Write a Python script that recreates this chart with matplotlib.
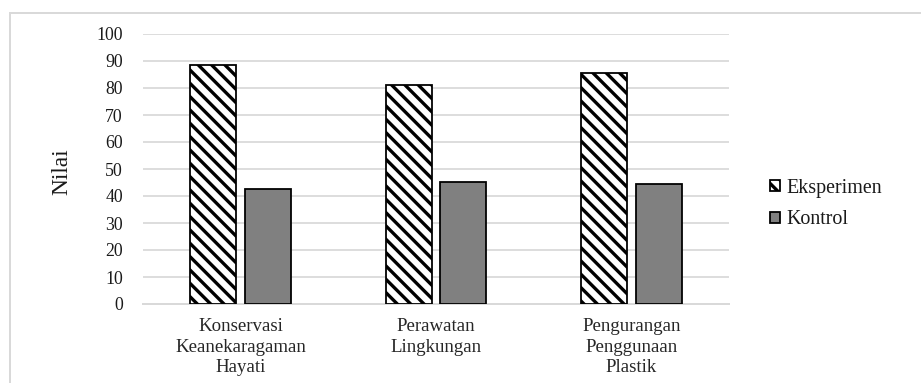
import matplotlib
matplotlib.use("Agg")
import matplotlib.pyplot as plt
from matplotlib.lines import Line2D

categories = ["Konservasi\nKeanekaragaman\nHayati", "Perawatan\nLingkungan", "Pengurangan\nPenggunaan\nPlastik"]
eksperimen = [88.5, 81.2, 85.5]
kontrol = [42.5, 45.1, 44.4]
series_names = ["Eksperimen", "Kontrol"]
yticks = list(range(0, 101, 10))

DPI = 80
W, H = 921, 383
plt.rcParams['font.family'] = ['Liberation Serif', 'DejaVu Serif']
plt.rcParams['hatch.linewidth'] = 3.0
plt.rcParams['hatch.color'] = 'black'

fig = plt.figure(figsize=(W / DPI, H / DPI), dpi=DPI)
fig.patch.set_facecolor('white')

# outer chart border (light gray)
grid_c = '#d9d9d9'
fig.add_artist(Line2D([10 / W, 10 / W], [0, 1 - 13 / H], transform=fig.transFigure, color=grid_c, lw=1.8))
fig.add_artist(Line2D([10 / W, 1], [1 - 13 / H, 1 - 13 / H], transform=fig.transFigure, color=grid_c, lw=1.8))

ax = fig.add_axes([143 / W, 1 - 304 / H, 586 / W, 270 / H])
x = list(range(len(categories)))
bw = 0.236
off = 0.14
ax.bar([i - off for i in x], eksperimen, width=bw, facecolor='white', edgecolor='black',
       hatch='\\\\', linewidth=1.6, label=series_names[0], zorder=3)
ax.bar([i + off for i in x], kontrol, width=bw, facecolor='#808080', edgecolor='black',
       linewidth=1.6, label=series_names[1], zorder=3)

ax.set_xlim(-0.5, len(categories) - 0.5)
ax.set_ylim(0, 100)
ax.set_yticks(yticks)
ax.set_yticklabels([str(t) for t in yticks])
ax.set_xticks(x)
ax.set_xticklabels(categories, linespacing=1.25)
ax.grid(axis='y', color=grid_c, lw=1.6, zorder=0)
ax.set_axisbelow(True)
for s in ['top', 'right', 'left']:
    ax.spines[s].set_visible(False)
ax.spines['bottom'].set_color(grid_c)
ax.spines['bottom'].set_linewidth(1.8)
ax.tick_params(axis='y', length=0, pad=18, labelsize=16, labelcolor='#1a1a1a')
ax.tick_params(axis='x', length=0, pad=13, labelsize=17, labelcolor='#262626')

fig.text(62 / W, 1 - 172 / H, 'Nilai', rotation=90, ha='center', va='center',
         fontsize=21, color='#1a1a1a')

leg = fig.legend(loc='center left', bbox_to_anchor=(770 / W, 1 - 204 / H), frameon=False,
                 fontsize=18, handlelength=0.5, handleheight=0.5, handletextpad=0.3,
                 labelspacing=0.65, borderpad=0, borderaxespad=0)
for t in leg.get_texts():
    t.set_color('#1a1a1a')

fig.savefig('out.png', dpi=DPI, facecolor='white')
